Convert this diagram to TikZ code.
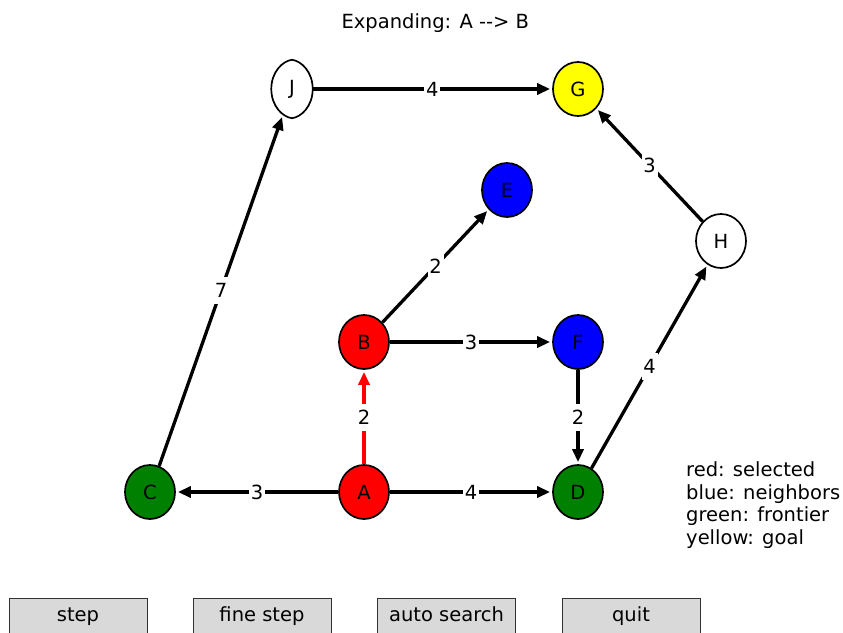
\documentclass[tikz,border=0pt]{standalone}
\usepackage{fontspec}
\setmainfont{DejaVu Sans}
\usetikzlibrary{shapes.geometric,arrows.meta}
\definecolor{nred}{RGB}{255,0,0}
\definecolor{nblue}{RGB}{0,0,255}
\definecolor{ngreen}{RGB}{0,128,0}
\definecolor{nyellow}{RGB}{255,255,0}
\definecolor{btngray}{RGB}{217,217,217}
\begin{document}
\begin{tikzpicture}[x=1pt,y=-1pt,
  txt/.style={font=\fontsize{19.5}{22.5}\selectfont},
  vertex/.style={ellipse,draw=black,line width=1.7pt,minimum width=50pt,minimum height=54pt,inner sep=0pt,txt},
  edge/.style={line width=3.3pt,-{Triangle[length=13pt,width=11pt]},shorten >=2pt},
  wlabel/.style={fill=white,inner sep=0pt,minimum width=16pt,minimum height=27pt,text height=14pt,text depth=0pt,txt},
  btn/.style={rectangle,draw=black!80,line width=1pt,fill=btngray,minimum width=138pt,minimum height=36pt,inner sep=0pt,text height=14pt,text depth=4pt,txt}]
\useasboundingbox (0,0) rectangle (843,632);
\fill[white] (0,0) rectangle (843,632);

\node[txt,anchor=base] (title) at (435.3,28.3) {Expanding: A -{}-> B};

\node[vertex,fill=ngreen] (C) at (150,492) {C};
\node[vertex,fill=nred] (A) at (364,492) {A};
\node[vertex,fill=ngreen] (D) at (578,492) {D};
\node[vertex,fill=nred] (B) at (364,342) {B};
\node[vertex,fill=nblue] (F) at (578,342) {F};
\node[vertex,fill=nblue] (E) at (507,190) {E};
\node[vertex,fill=white] (H) at (721,241) {H};
\node[vertex,fill=nyellow] (G) at (578,89) {G};
\node[ellipse,minimum width=41pt,minimum height=58pt,inner sep=0pt,txt] (J) at (292,89) {};
\draw[line width=1.7pt,fill=white]
  (J.north) .. controls +(9.5,1.2) and +(0,-17) .. (J.east)
  .. controls +(0,17) and +(9.5,-1.2) .. (J.south)
  .. controls +(-9.5,-1.2) and +(0,17) .. (J.west)
  .. controls +(0,-17) and +(-9.5,1.2) .. cycle;
\node[txt] (Jt) at (J.center) {J};

\draw[edge] (J) -- node[wlabel] (l1) {4} (G);
\draw[edge] (C) -- node[wlabel] (l2) {7} (J);
\draw[edge] (B) -- node[wlabel] (l3) {2} (E);
\draw[edge] (B) -- node[wlabel] (l4) {3} (F);
\draw[edge,draw=nred,fill=nred] (A) -- node[wlabel] (l5) {2} (B);
\draw[edge] (F) -- node[wlabel] (l6) {2} (D);
\draw[edge] (A) -- node[wlabel] (l7) {3} (C);
\draw[edge] (A) -- node[wlabel] (l8) {4} (D);
\draw[edge] (D) -- node[wlabel] (l9) {4} (H);
\draw[edge] (H) -- node[wlabel] (l10) {3} (G);

\node[txt,anchor=base west,align=left,inner sep=0pt] (legend) at (686,544.2)
  {red: selected\\blue: neighbors\\green: frontier\\yellow: goal};

\node[btn] (b1) at (78,616) {step};
\node[btn] (b2) at (262,616) {fine step};
\node[btn] (b3) at (446.5,616) {auto search};
\node[btn] (b4) at (631,616) {quit};
\end{tikzpicture}
\end{document}
